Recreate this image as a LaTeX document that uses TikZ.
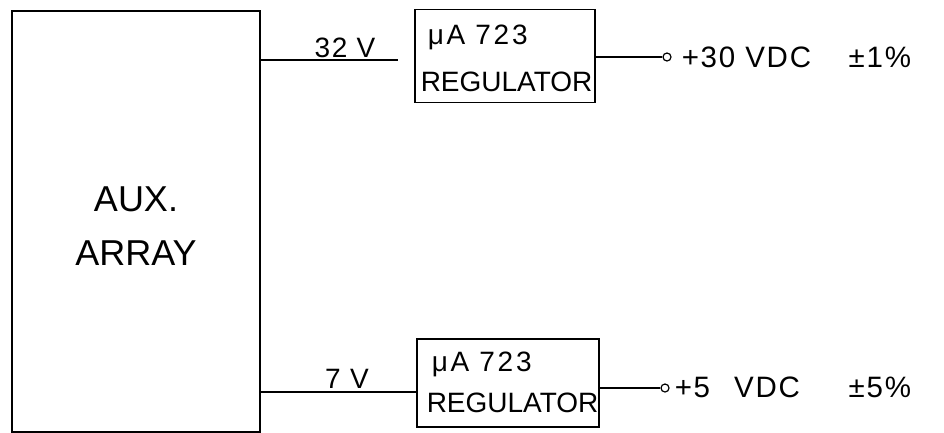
\documentclass[tikz,border=0pt]{standalone}
\usepackage{fontspec}
\setmainfont{Liberation Sans}
\newcommand{\mua}{{\addfontfeature{LetterSpace=10}μA\hspace{10pt}723}}
\begin{document}
\begin{tikzpicture}[x=1pt,y=-1pt,line width=1.5pt,
  blk/.style={draw,rectangle,inner sep=0pt},
  term/.style={draw,circle,minimum size=8pt,inner sep=0pt,fill=white,line width=1.2pt},
  lbl/.style={font=\fontsize{28}{32}\selectfont\addfontfeature{LetterSpace=6},inner sep=0pt},
  outlbl/.style={font=\fontsize{29.5}{32}\selectfont\addfontfeature{LetterSpace=6},inner sep=0pt,anchor=base west},
  regtxt/.style={font=\fontsize{28}{47}\selectfont,align=left,inner sep=0pt}]
\useasboundingbox (0,0) rectangle (944,432);
% AUX array
\node[blk,minimum width=248pt,minimum height=421pt] (aux) at (136,221.5) {};
\node[font=\fontsize{36}{54}\selectfont,align=center,inner sep=0pt] (auxt) at (136,226) {AUX.\\ARRAY};
% regulators
\node[blk,minimum width=180pt,minimum height=93pt] (reg1) at (505,56) {};
\node[regtxt,anchor=north west] (reg1t) at (420,24) {\hspace{7pt}\mua\\REGULATOR};
\node[blk,minimum width=182pt,minimum height=88pt] (reg2) at (508,383) {};
\node[regtxt,font=\fontsize{28}{41}\selectfont,anchor=north west] (reg2t) at (426,351) {\hspace{5pt}\mua\\REGULATOR};
% inputs
\coordinate (e1) at (398,60);
\draw (aux.east |- e1) -- (e1);
\node[lbl,anchor=base] (v32) at (345,57) {32\,\,V};
\coordinate (e2) at (reg2.west |- 0,392);
\draw (aux.east |- e2) -- (e2);
\node[lbl,anchor=base] (v7) at (347,388) {7\,\,V};
% outputs
\node[term] (t1) at (667,57) {};
\draw (reg1.east |- t1) -- (t1.west);
\node[outlbl] (o1) at (681,67) {\makebox[167pt][l]{+30 VDC}±1\%};
\node[term] (t2) at (665,388) {};
\draw (reg2.east |- t2) -- (t2.west);
\node[outlbl] (o2) at (674,397) {\makebox[174pt][l]{+5\hspace{24pt}VDC}±5\%};
\end{tikzpicture}
\end{document}
